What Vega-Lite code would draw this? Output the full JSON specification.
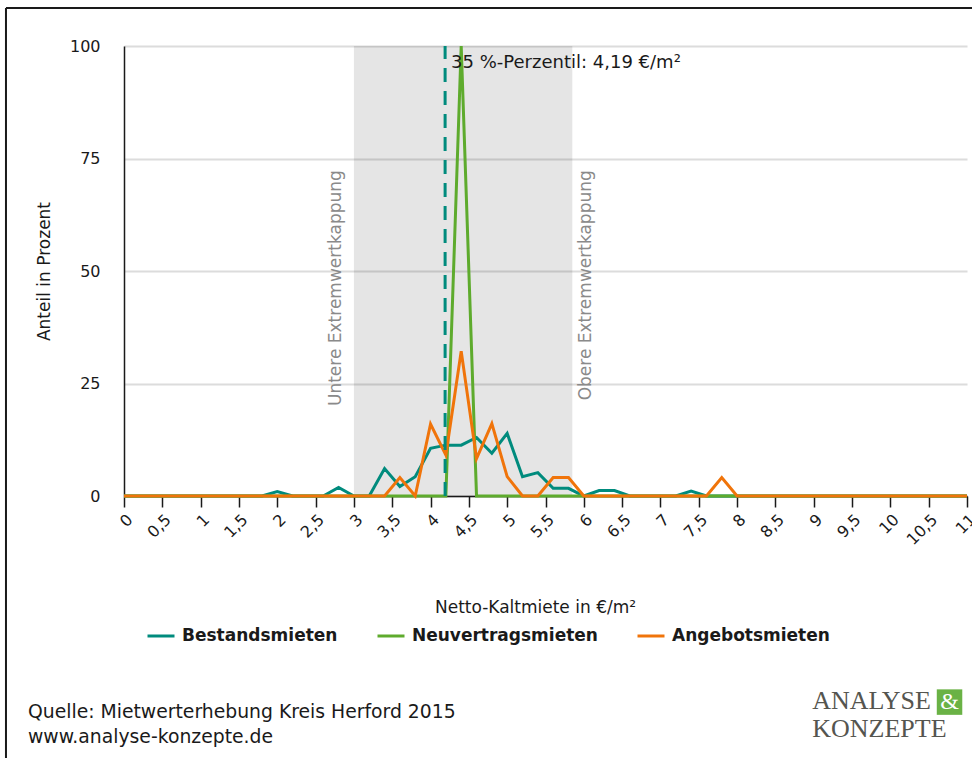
{
  "$schema": "https://vega.github.io/schema/vega-lite/v6.json",
  "autosize": {"type": "none"},
  "width": 843,
  "height": 450,
  "padding": {"left": 124, "top": 46, "right": 5, "bottom": 262},
  "background": "white",
  "config": {
    "font": "DejaVu Sans",
    "view": {"stroke": null},
    "axis": {"labelFont": "DejaVu Sans", "titleFont": "DejaVu Sans", "labelColor": "#1a1a1a", "titleColor": "#1a1a1a", "labelFontSize": 16, "titleFontSize": 17, "titleFontWeight": "normal"},
    "legend": {"labelFont": "DejaVu Sans"}
  },
  "layer": [
    {
      "data": {"values": [{"von": 3.0, "bis": 5.85}]},
      "mark": {"type": "rect", "fill": "#000000", "fillOpacity": 0.1},
      "encoding": {
        "x": {"field": "von", "type": "quantitative", "scale": {"domain": [0, 11], "nice": false, "zero": false},
          "axis": {"values": [0,0.5,1,1.5,2,2.5,3,3.5,4,4.5,5,5.5,6,6.5,7,7.5,8,8.5,9,9.5,10,10.5,11],
            "tickCount": 30,
            "labelExpr": "replace(toString(datum.value), '.', ',')",
            "labelOverlap": false, "labelFlush": false, "labelBound": false,
            "labelAngle": -45, "labelPadding": 4, "tickSize": 11, "tickWidth": 1.5, "tickColor": "#1a1a1a",
            "domainColor": "#1a1a1a", "domainWidth": 1.5, "grid": false,
            "title": "Netto-Kaltmiete in €/m²", "titlePadding": 52, "titleX": 411}},
        "x2": {"field": "bis"},
        "y": {"datum": 0, "type": "quantitative", "scale": {"domain": [0, 100], "nice": false},
          "axis": {"values": [0, 25, 50, 75, 100], "grid": true, "gridColor": "#dcdcdc", "gridWidth": 2,
            "ticks": false, "tickSize": 0, "labelPadding": 24, "domainColor": "#1a1a1a", "domainWidth": 1.5,
            "title": "Anteil in Prozent", "titlePadding": 16}},
        "y2": {"datum": 100}
      }
    },
    {
      "data": {"values": [
        {"label": "Untere Extremwertkappung", "pos": 2.77},
        {"label": "Obere Extremwertkappung", "pos": 6.03}
      ]},
      "mark": {"type": "text", "angle": 270, "align": "right", "baseline": "middle", "fontSize": 17, "color": "#8a8a8a"},
      "encoding": {
        "x": {"field": "pos", "type": "quantitative"},
        "y": {"datum": 72.4, "type": "quantitative"},
        "text": {"field": "label"}
      }
    },
    {
      "data": {"values": [
        {"miete": 0.0, "Bestandsmieten": 0, "Neuvertragsmieten": 0, "Angebotsmieten": 0},
        {"miete": 0.2, "Bestandsmieten": 0, "Neuvertragsmieten": 0, "Angebotsmieten": 0},
        {"miete": 0.4, "Bestandsmieten": 0, "Neuvertragsmieten": 0, "Angebotsmieten": 0},
        {"miete": 0.6, "Bestandsmieten": 0, "Neuvertragsmieten": 0, "Angebotsmieten": 0},
        {"miete": 0.8, "Bestandsmieten": 0, "Neuvertragsmieten": 0, "Angebotsmieten": 0},
        {"miete": 1.0, "Bestandsmieten": 0, "Neuvertragsmieten": 0, "Angebotsmieten": 0},
        {"miete": 1.2, "Bestandsmieten": 0, "Neuvertragsmieten": 0, "Angebotsmieten": 0},
        {"miete": 1.4, "Bestandsmieten": 0, "Neuvertragsmieten": 0, "Angebotsmieten": 0},
        {"miete": 1.6, "Bestandsmieten": 0, "Neuvertragsmieten": 0, "Angebotsmieten": 0},
        {"miete": 1.8, "Bestandsmieten": 0, "Neuvertragsmieten": 0, "Angebotsmieten": 0},
        {"miete": 2.0, "Bestandsmieten": 1.0, "Neuvertragsmieten": 0, "Angebotsmieten": 0},
        {"miete": 2.2, "Bestandsmieten": 0, "Neuvertragsmieten": 0, "Angebotsmieten": 0},
        {"miete": 2.4, "Bestandsmieten": 0, "Neuvertragsmieten": 0, "Angebotsmieten": 0},
        {"miete": 2.6, "Bestandsmieten": 0, "Neuvertragsmieten": 0, "Angebotsmieten": 0},
        {"miete": 2.8, "Bestandsmieten": 1.9, "Neuvertragsmieten": 0, "Angebotsmieten": 0},
        {"miete": 3.0, "Bestandsmieten": 0, "Neuvertragsmieten": 0, "Angebotsmieten": 0},
        {"miete": 3.2, "Bestandsmieten": 0, "Neuvertragsmieten": 0, "Angebotsmieten": 0},
        {"miete": 3.4, "Bestandsmieten": 6.1, "Neuvertragsmieten": 0, "Angebotsmieten": 0},
        {"miete": 3.6, "Bestandsmieten": 2.1, "Neuvertragsmieten": 0, "Angebotsmieten": 4.1},
        {"miete": 3.8, "Bestandsmieten": 4.3, "Neuvertragsmieten": 0, "Angebotsmieten": 0},
        {"miete": 4.0, "Bestandsmieten": 10.6, "Neuvertragsmieten": 0, "Angebotsmieten": 16.0},
        {"miete": 4.2, "Bestandsmieten": 11.3, "Neuvertragsmieten": 0, "Angebotsmieten": 9.1},
        {"miete": 4.4, "Bestandsmieten": 11.3, "Neuvertragsmieten": 100, "Angebotsmieten": 32.2},
        {"miete": 4.6, "Bestandsmieten": 13.0, "Neuvertragsmieten": 0, "Angebotsmieten": 8.3},
        {"miete": 4.8, "Bestandsmieten": 9.5, "Neuvertragsmieten": 0, "Angebotsmieten": 16.1},
        {"miete": 5.0, "Bestandsmieten": 13.9, "Neuvertragsmieten": 0, "Angebotsmieten": 4.3},
        {"miete": 5.2, "Bestandsmieten": 4.3, "Neuvertragsmieten": 0, "Angebotsmieten": 0},
        {"miete": 5.4, "Bestandsmieten": 5.2, "Neuvertragsmieten": 0, "Angebotsmieten": 0},
        {"miete": 5.6, "Bestandsmieten": 1.7, "Neuvertragsmieten": 0, "Angebotsmieten": 4.1},
        {"miete": 5.8, "Bestandsmieten": 1.7, "Neuvertragsmieten": 0, "Angebotsmieten": 4.1},
        {"miete": 6.0, "Bestandsmieten": 0, "Neuvertragsmieten": 0, "Angebotsmieten": 0},
        {"miete": 6.2, "Bestandsmieten": 1.2, "Neuvertragsmieten": 0, "Angebotsmieten": 0},
        {"miete": 6.4, "Bestandsmieten": 1.2, "Neuvertragsmieten": 0, "Angebotsmieten": 0},
        {"miete": 6.6, "Bestandsmieten": 0, "Neuvertragsmieten": 0, "Angebotsmieten": 0},
        {"miete": 6.8, "Bestandsmieten": 0, "Neuvertragsmieten": 0, "Angebotsmieten": 0},
        {"miete": 7.0, "Bestandsmieten": 0, "Neuvertragsmieten": 0, "Angebotsmieten": 0},
        {"miete": 7.2, "Bestandsmieten": 0, "Neuvertragsmieten": 0, "Angebotsmieten": 0},
        {"miete": 7.4, "Bestandsmieten": 1.1, "Neuvertragsmieten": 0, "Angebotsmieten": 0},
        {"miete": 7.6, "Bestandsmieten": 0, "Neuvertragsmieten": 0, "Angebotsmieten": 0},
        {"miete": 7.8, "Bestandsmieten": 0, "Neuvertragsmieten": 0, "Angebotsmieten": 4.1},
        {"miete": 8.0, "Bestandsmieten": 0, "Neuvertragsmieten": 0, "Angebotsmieten": 0},
        {"miete": 8.2, "Bestandsmieten": 0, "Neuvertragsmieten": 0, "Angebotsmieten": 0},
        {"miete": 8.4, "Bestandsmieten": 0, "Neuvertragsmieten": 0, "Angebotsmieten": 0},
        {"miete": 8.6, "Bestandsmieten": 0, "Neuvertragsmieten": 0, "Angebotsmieten": 0},
        {"miete": 8.8, "Bestandsmieten": 0, "Neuvertragsmieten": 0, "Angebotsmieten": 0},
        {"miete": 9.0, "Bestandsmieten": 0, "Neuvertragsmieten": 0, "Angebotsmieten": 0},
        {"miete": 9.2, "Bestandsmieten": 0, "Neuvertragsmieten": 0, "Angebotsmieten": 0},
        {"miete": 9.4, "Bestandsmieten": 0, "Neuvertragsmieten": 0, "Angebotsmieten": 0},
        {"miete": 9.6, "Bestandsmieten": 0, "Neuvertragsmieten": 0, "Angebotsmieten": 0},
        {"miete": 9.8, "Bestandsmieten": 0, "Neuvertragsmieten": 0, "Angebotsmieten": 0},
        {"miete": 10.0, "Bestandsmieten": 0, "Neuvertragsmieten": 0, "Angebotsmieten": 0},
        {"miete": 10.2, "Bestandsmieten": 0, "Neuvertragsmieten": 0, "Angebotsmieten": 0},
        {"miete": 10.4, "Bestandsmieten": 0, "Neuvertragsmieten": 0, "Angebotsmieten": 0},
        {"miete": 10.6, "Bestandsmieten": 0, "Neuvertragsmieten": 0, "Angebotsmieten": 0},
        {"miete": 10.8, "Bestandsmieten": 0, "Neuvertragsmieten": 0, "Angebotsmieten": 0},
        {"miete": 11.0, "Bestandsmieten": 0, "Neuvertragsmieten": 0, "Angebotsmieten": 0}
      ]},
      "transform": [{"fold": ["Bestandsmieten", "Neuvertragsmieten", "Angebotsmieten"], "as": ["serie", "anteil"]}],
      "mark": {"type": "line", "strokeWidth": 3, "strokeJoin": "miter"},
      "encoding": {
        "x": {"field": "miete", "type": "quantitative"},
        "y": {"field": "anteil", "type": "quantitative"},
        "color": {"field": "serie", "type": "nominal",
          "sort": ["Bestandsmieten", "Neuvertragsmieten", "Angebotsmieten"],
          "scale": {"domain": ["Bestandsmieten", "Neuvertragsmieten", "Angebotsmieten"], "range": ["#008b7d", "#5eab2d", "#f0740a"]},
          "legend": {"title": null, "orient": "none", "legendX": 22, "legendY": 575, "direction": "horizontal",
            "symbolType": "stroke", "symbolSize": 729, "symbolStrokeWidth": 3,
            "labelFontSize": 17, "labelFontWeight": "bold", "labelColor": "#1a1a1a", "labelOffset": 6,
            "columnPadding": 33, "labelLimit": 300}},
        "order": {"field": "miete", "type": "quantitative"}
      }
    },
    {
      "data": {"values": [{"p": 4.19}]},
      "mark": {"type": "rule", "color": "#008b7d", "strokeWidth": 3, "strokeDash": [14, 9]},
      "encoding": {
        "x": {"field": "p", "type": "quantitative"},
        "y": {"datum": 0, "type": "quantitative"},
        "y2": {"datum": 100}
      }
    },
    {
      "data": {"values": [{"p": 4.19, "label": "35 %-Perzentil: 4,19 €/m²"}]},
      "mark": {"type": "text", "align": "left", "baseline": "middle", "dx": 6, "dy": 17, "fontSize": 18, "color": "#1a1a1a"},
      "encoding": {
        "x": {"field": "p", "type": "quantitative"},
        "y": {"datum": 100, "type": "quantitative"},
        "text": {"field": "label"}
      }
    },
    {
      "data": {"values": [{}]},
      "mark": {"type": "rule", "color": "#1a1a1a", "strokeWidth": 2},
      "encoding": {
        "x": {"datum": -1.54, "type": "quantitative"},
        "y": {"datum": 108.44, "type": "quantitative"},
        "y2": {"datum": -58.5}
      }
    },
    {
      "data": {"values": [{}]},
      "mark": {"type": "rule", "color": "#1a1a1a", "strokeWidth": 2},
      "encoding": {
        "x": {"datum": -1.54, "type": "quantitative"},
        "x2": {"datum": 11.1},
        "y": {"datum": 108.44, "type": "quantitative"}
      }
    },
    {
      "data": {"values": [{"t": "Quelle: Mietwerterhebung Kreis Herford 2015", "row": -48.0}, {"t": "www.analyse-konzepte.de", "row": -53.6}]},
      "mark": {"type": "text", "align": "left", "baseline": "middle", "fontSize": 18.8, "color": "#1a1a1a"},
      "encoding": {
        "x": {"datum": -1.2527, "type": "quantitative"},
        "y": {"field": "row", "type": "quantitative"},
        "text": {"field": "t"}
      }
    },
    {
      "data": {"values": [{"t": "ANALYSE", "row": -45.6}, {"t": "KONZEPTE", "row": -51.8}]},
      "mark": {"type": "text", "align": "left", "baseline": "middle", "font": "Liberation Serif", "fontSize": 26, "color": "#55554f"},
      "encoding": {
        "x": {"datum": 8.98, "type": "quantitative"},
        "y": {"field": "row", "type": "quantitative"},
        "text": {"field": "t"}
      }
    },
    {
      "data": {"values": [{}]},
      "mark": {"type": "point", "shape": "square", "filled": true, "color": "#6ab245", "opacity": 1, "size": 650},
      "encoding": {
        "x": {"datum": 10.772, "type": "quantitative"},
        "y": {"datum": -45.8, "type": "quantitative"}
      }
    },
    {
      "data": {"values": [{}]},
      "mark": {"type": "text", "align": "center", "baseline": "middle", "font": "Liberation Serif", "fontSize": 24, "color": "white"},
      "encoding": {
        "x": {"datum": 10.772, "type": "quantitative"},
        "y": {"datum": -45.8, "type": "quantitative"},
        "text": {"value": "&"}
      }
    }
  ]
}
